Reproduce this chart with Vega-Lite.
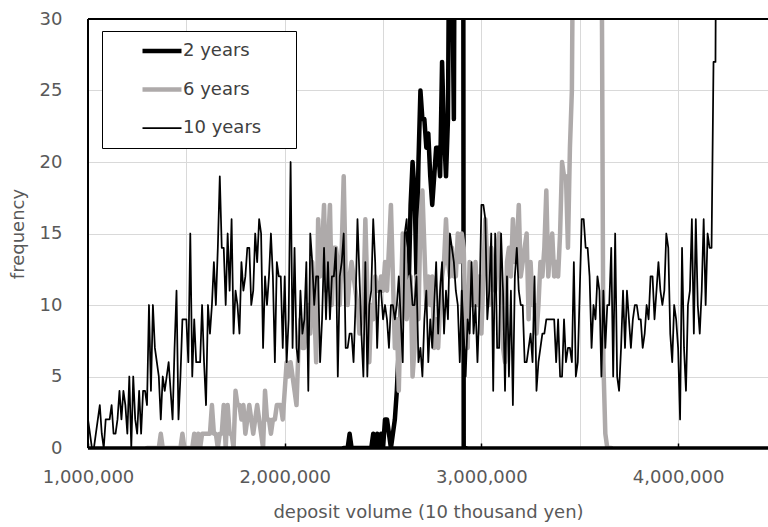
{
"$schema": "https://vega.github.io/schema/vega-lite/v6.json",
"width": 680,
"height": 429,
"autosize": {"type": "none"},
"padding": {"left": 88, "top": 19, "right": 0, "bottom": 79},
"config": {
  "font": "DejaVu Sans",
  "view": {"stroke": null},
  "axis": {"labelFont": "DejaVu Sans", "titleFont": "DejaVu Sans", "labelFontSize": 18, "titleFontSize": 18, "labelColor": "#595959", "titleColor": "#595959", "titleFontWeight": "normal", "gridColor": "#d9d9d9", "gridWidth": 1}
},
"datasets": {
"y2": [
{"x":2300000,"f":0},{"x":2310000,"f":0},{"x":2320000,"f":0},{"x":2330000,"f":1},{"x":2340000,"f":0},{"x":2350000,"f":0},{"x":2360000,"f":0},{"x":2370000,"f":0},{"x":2380000,"f":0},{"x":2390000,"f":0},{"x":2400000,"f":0},{"x":2410000,"f":0},{"x":2420000,"f":0},{"x":2430000,"f":0},{"x":2440000,"f":0},{"x":2450000,"f":1},{"x":2460000,"f":0},{"x":2470000,"f":1},{"x":2480000,"f":0},{"x":2490000,"f":1},{"x":2500000,"f":0},{"x":2510000,"f":2},{"x":2520000,"f":2},{"x":2530000,"f":1},{"x":2540000,"f":0},{"x":2550000,"f":1},{"x":2560000,"f":2},{"x":2570000,"f":4},{"x":2580000,"f":7},{"x":2590000,"f":10},{"x":2600000,"f":11},{"x":2610000,"f":13},{"x":2620000,"f":15},{"x":2630000,"f":11},{"x":2640000,"f":17},{"x":2650000,"f":20},{"x":2660000,"f":18},{"x":2670000,"f":12},{"x":2680000,"f":20},{"x":2690000,"f":25},{"x":2700000,"f":23},{"x":2710000,"f":23},{"x":2720000,"f":21},{"x":2730000,"f":22},{"x":2740000,"f":19},{"x":2750000,"f":17},{"x":2760000,"f":19},{"x":2770000,"f":21},{"x":2780000,"f":21},{"x":2790000,"f":19},{"x":2800000,"f":27},{"x":2810000,"f":22},{"x":2820000,"f":19},{"x":2830000,"f":23},{"x":2840000,"f":45},{"x":2850000,"f":35},{"x":2860000,"f":23},{"x":2870000,"f":60},{"x":2880000,"f":100},{"x":2890000,"f":150},{"x":2900000,"f":170},{"x":2910000,"f":0},{"x":2920000,"f":0}
],
"y6": [
{"x":1300000,"f":0},{"x":1310000,"f":0},{"x":1320000,"f":0},{"x":1330000,"f":0},{"x":1340000,"f":0},{"x":1350000,"f":0},{"x":1360000,"f":0},{"x":1370000,"f":1},{"x":1380000,"f":0},{"x":1390000,"f":0},{"x":1400000,"f":0},{"x":1410000,"f":0},{"x":1420000,"f":0},{"x":1430000,"f":0},{"x":1440000,"f":0},{"x":1450000,"f":0},{"x":1460000,"f":0},{"x":1470000,"f":0},{"x":1480000,"f":1},{"x":1490000,"f":0},{"x":1500000,"f":0},{"x":1510000,"f":0},{"x":1520000,"f":0},{"x":1530000,"f":0},{"x":1540000,"f":1},{"x":1550000,"f":0},{"x":1560000,"f":1},{"x":1570000,"f":0},{"x":1580000,"f":1},{"x":1590000,"f":1},{"x":1600000,"f":1},{"x":1610000,"f":1},{"x":1620000,"f":1},{"x":1630000,"f":3},{"x":1640000,"f":1},{"x":1650000,"f":1},{"x":1660000,"f":0},{"x":1670000,"f":1},{"x":1680000,"f":1},{"x":1690000,"f":3},{"x":1700000,"f":0},{"x":1710000,"f":3},{"x":1720000,"f":1},{"x":1730000,"f":1},{"x":1740000,"f":0},{"x":1750000,"f":4},{"x":1760000,"f":3},{"x":1770000,"f":3},{"x":1780000,"f":2},{"x":1790000,"f":3},{"x":1800000,"f":1},{"x":1810000,"f":2},{"x":1820000,"f":3},{"x":1830000,"f":2},{"x":1840000,"f":1},{"x":1850000,"f":2},{"x":1860000,"f":3},{"x":1870000,"f":2},{"x":1880000,"f":1},{"x":1890000,"f":0},{"x":1900000,"f":4},{"x":1910000,"f":2},{"x":1920000,"f":2},{"x":1930000,"f":1},{"x":1940000,"f":2},{"x":1950000,"f":2},{"x":1960000,"f":3},{"x":1970000,"f":3},{"x":1980000,"f":3},{"x":1990000,"f":2},{"x":2000000,"f":4},{"x":2010000,"f":6},{"x":2020000,"f":5},{"x":2030000,"f":6},{"x":2040000,"f":5},{"x":2050000,"f":4},{"x":2060000,"f":3},{"x":2070000,"f":7},{"x":2080000,"f":9},{"x":2090000,"f":7},{"x":2100000,"f":7},{"x":2110000,"f":9},{"x":2120000,"f":10},{"x":2130000,"f":8},{"x":2140000,"f":13},{"x":2150000,"f":10},{"x":2160000,"f":6},{"x":2170000,"f":16},{"x":2180000,"f":12},{"x":2190000,"f":14},{"x":2200000,"f":17},{"x":2210000,"f":11},{"x":2220000,"f":14},{"x":2230000,"f":17},{"x":2240000,"f":10},{"x":2250000,"f":14},{"x":2260000,"f":14},{"x":2270000,"f":13},{"x":2280000,"f":10},{"x":2290000,"f":14},{"x":2300000,"f":19},{"x":2310000,"f":12},{"x":2320000,"f":10},{"x":2330000,"f":12},{"x":2340000,"f":13},{"x":2350000,"f":12},{"x":2360000,"f":11},{"x":2370000,"f":10},{"x":2380000,"f":8},{"x":2390000,"f":9},{"x":2400000,"f":10},{"x":2410000,"f":16},{"x":2420000,"f":11},{"x":2430000,"f":6},{"x":2440000,"f":10},{"x":2450000,"f":9},{"x":2460000,"f":12},{"x":2470000,"f":11},{"x":2480000,"f":11},{"x":2490000,"f":12},{"x":2500000,"f":11},{"x":2510000,"f":13},{"x":2520000,"f":11},{"x":2530000,"f":14},{"x":2540000,"f":17},{"x":2550000,"f":12},{"x":2560000,"f":7},{"x":2570000,"f":9},{"x":2580000,"f":4},{"x":2590000,"f":10},{"x":2600000,"f":15},{"x":2610000,"f":14},{"x":2620000,"f":9},{"x":2630000,"f":11},{"x":2640000,"f":12},{"x":2650000,"f":5},{"x":2660000,"f":7},{"x":2670000,"f":12},{"x":2680000,"f":9},{"x":2690000,"f":16},{"x":2700000,"f":18},{"x":2710000,"f":14},{"x":2720000,"f":10},{"x":2730000,"f":12},{"x":2740000,"f":10},{"x":2750000,"f":12},{"x":2760000,"f":7},{"x":2770000,"f":9},{"x":2780000,"f":7},{"x":2790000,"f":10},{"x":2800000,"f":12},{"x":2810000,"f":13},{"x":2820000,"f":16},{"x":2830000,"f":13},{"x":2840000,"f":12},{"x":2850000,"f":14},{"x":2860000,"f":12},{"x":2870000,"f":12},{"x":2880000,"f":15},{"x":2890000,"f":13},{"x":2900000,"f":15},{"x":2910000,"f":14},{"x":2920000,"f":8},{"x":2930000,"f":7},{"x":2940000,"f":13},{"x":2950000,"f":10},{"x":2960000,"f":10},{"x":2970000,"f":13},{"x":2980000,"f":10},{"x":2990000,"f":12},{"x":3000000,"f":8},{"x":3010000,"f":12},{"x":3020000,"f":16},{"x":3030000,"f":13},{"x":3040000,"f":10},{"x":3050000,"f":14},{"x":3060000,"f":12},{"x":3070000,"f":11},{"x":3080000,"f":14},{"x":3090000,"f":15},{"x":3100000,"f":10},{"x":3110000,"f":7},{"x":3120000,"f":6},{"x":3130000,"f":13},{"x":3140000,"f":14},{"x":3150000,"f":12},{"x":3160000,"f":16},{"x":3170000,"f":13},{"x":3180000,"f":14},{"x":3190000,"f":17},{"x":3200000,"f":12},{"x":3210000,"f":13},{"x":3220000,"f":14},{"x":3230000,"f":15},{"x":3240000,"f":9},{"x":3250000,"f":13},{"x":3260000,"f":10},{"x":3270000,"f":10},{"x":3280000,"f":8},{"x":3290000,"f":10},{"x":3300000,"f":13},{"x":3310000,"f":12},{"x":3320000,"f":14},{"x":3330000,"f":18},{"x":3340000,"f":12},{"x":3350000,"f":14},{"x":3360000,"f":15},{"x":3370000,"f":12},{"x":3380000,"f":13},{"x":3390000,"f":12},{"x":3400000,"f":15},{"x":3410000,"f":20},{"x":3420000,"f":19},{"x":3430000,"f":19},{"x":3440000,"f":14},{"x":3450000,"f":21},{"x":3460000,"f":25},{"x":3470000,"f":45},{"x":3480000,"f":90},{"x":3490000,"f":140},{"x":3500000,"f":180},{"x":3510000,"f":210},{"x":3520000,"f":230},{"x":3530000,"f":240},{"x":3540000,"f":240},{"x":3550000,"f":230},{"x":3560000,"f":210},{"x":3570000,"f":180},{"x":3580000,"f":140},{"x":3590000,"f":100},{"x":3600000,"f":70},{"x":3610000,"f":40},{"x":3620000,"f":6},{"x":3630000,"f":1},{"x":3640000,"f":0},{"x":3650000,"f":0},{"x":3660000,"f":0}
],
"y10": [
{"x":1000000,"f":2},{"x":1010000,"f":1},{"x":1020000,"f":0},{"x":1030000,"f":0},{"x":1040000,"f":1},{"x":1050000,"f":2},{"x":1060000,"f":3},{"x":1070000,"f":1},{"x":1080000,"f":0},{"x":1090000,"f":2},{"x":1100000,"f":2},{"x":1110000,"f":2},{"x":1120000,"f":3},{"x":1130000,"f":1},{"x":1140000,"f":1},{"x":1150000,"f":2},{"x":1160000,"f":4},{"x":1170000,"f":2},{"x":1180000,"f":4},{"x":1190000,"f":3},{"x":1200000,"f":1},{"x":1210000,"f":5},{"x":1220000,"f":0},{"x":1230000,"f":5},{"x":1240000,"f":2},{"x":1250000,"f":1},{"x":1260000,"f":4},{"x":1270000,"f":1},{"x":1280000,"f":4},{"x":1290000,"f":4},{"x":1300000,"f":3},{"x":1310000,"f":10},{"x":1320000,"f":4},{"x":1330000,"f":10},{"x":1340000,"f":7},{"x":1350000,"f":6},{"x":1360000,"f":5},{"x":1370000,"f":2},{"x":1380000,"f":5},{"x":1390000,"f":4},{"x":1400000,"f":5},{"x":1410000,"f":6},{"x":1420000,"f":4},{"x":1430000,"f":2},{"x":1440000,"f":7},{"x":1450000,"f":11},{"x":1460000,"f":2},{"x":1470000,"f":5},{"x":1480000,"f":9},{"x":1490000,"f":9},{"x":1500000,"f":9},{"x":1510000,"f":6},{"x":1520000,"f":15},{"x":1530000,"f":5},{"x":1540000,"f":9},{"x":1550000,"f":6},{"x":1560000,"f":6},{"x":1570000,"f":6},{"x":1580000,"f":10},{"x":1590000,"f":6},{"x":1600000,"f":3},{"x":1610000,"f":10},{"x":1620000,"f":8},{"x":1630000,"f":10},{"x":1640000,"f":13},{"x":1650000,"f":10},{"x":1660000,"f":14},{"x":1670000,"f":19},{"x":1680000,"f":14},{"x":1690000,"f":14},{"x":1700000,"f":10},{"x":1710000,"f":15},{"x":1720000,"f":11},{"x":1730000,"f":16},{"x":1740000,"f":8},{"x":1750000,"f":11},{"x":1760000,"f":10},{"x":1770000,"f":8},{"x":1780000,"f":13},{"x":1790000,"f":11},{"x":1800000,"f":12},{"x":1810000,"f":14},{"x":1820000,"f":14},{"x":1830000,"f":10},{"x":1840000,"f":11},{"x":1850000,"f":15},{"x":1860000,"f":13},{"x":1870000,"f":16},{"x":1880000,"f":15},{"x":1890000,"f":7},{"x":1900000,"f":12},{"x":1910000,"f":10},{"x":1920000,"f":12},{"x":1930000,"f":15},{"x":1940000,"f":12},{"x":1950000,"f":6},{"x":1960000,"f":13},{"x":1970000,"f":12},{"x":1980000,"f":12},{"x":1990000,"f":7},{"x":2000000,"f":12},{"x":2010000,"f":6},{"x":2020000,"f":9},{"x":2030000,"f":20},{"x":2040000,"f":7},{"x":2050000,"f":14},{"x":2060000,"f":7},{"x":2070000,"f":6},{"x":2080000,"f":11},{"x":2090000,"f":8},{"x":2100000,"f":9},{"x":2110000,"f":13},{"x":2120000,"f":4},{"x":2130000,"f":15},{"x":2140000,"f":13},{"x":2150000,"f":10},{"x":2160000,"f":12},{"x":2170000,"f":12},{"x":2180000,"f":6},{"x":2190000,"f":9},{"x":2200000,"f":14},{"x":2210000,"f":9},{"x":2220000,"f":13},{"x":2230000,"f":9},{"x":2240000,"f":12},{"x":2250000,"f":12},{"x":2260000,"f":14},{"x":2270000,"f":5},{"x":2280000,"f":12},{"x":2290000,"f":13},{"x":2300000,"f":15},{"x":2310000,"f":7},{"x":2320000,"f":7},{"x":2330000,"f":8},{"x":2340000,"f":8},{"x":2350000,"f":6},{"x":2360000,"f":10},{"x":2370000,"f":16},{"x":2380000,"f":12},{"x":2390000,"f":8},{"x":2400000,"f":5},{"x":2410000,"f":13},{"x":2420000,"f":5},{"x":2430000,"f":10},{"x":2440000,"f":11},{"x":2450000,"f":16},{"x":2460000,"f":13},{"x":2470000,"f":7},{"x":2480000,"f":11},{"x":2490000,"f":11},{"x":2500000,"f":9},{"x":2510000,"f":10},{"x":2520000,"f":9},{"x":2530000,"f":7},{"x":2540000,"f":10},{"x":2550000,"f":10},{"x":2560000,"f":9},{"x":2570000,"f":10},{"x":2580000,"f":12},{"x":2590000,"f":9},{"x":2600000,"f":6},{"x":2610000,"f":15},{"x":2620000,"f":16},{"x":2630000,"f":13},{"x":2640000,"f":12},{"x":2650000,"f":10},{"x":2660000,"f":10},{"x":2670000,"f":12},{"x":2680000,"f":6},{"x":2690000,"f":7},{"x":2700000,"f":5},{"x":2710000,"f":9},{"x":2720000,"f":11},{"x":2730000,"f":6},{"x":2740000,"f":9},{"x":2750000,"f":7},{"x":2760000,"f":10},{"x":2770000,"f":13},{"x":2780000,"f":8},{"x":2790000,"f":11},{"x":2800000,"f":13},{"x":2810000,"f":8},{"x":2820000,"f":11},{"x":2830000,"f":9},{"x":2840000,"f":15},{"x":2850000,"f":14},{"x":2860000,"f":13},{"x":2870000,"f":11},{"x":2880000,"f":10},{"x":2890000,"f":6},{"x":2900000,"f":11},{"x":2910000,"f":8},{"x":2920000,"f":5},{"x":2930000,"f":9},{"x":2940000,"f":8},{"x":2950000,"f":13},{"x":2960000,"f":8},{"x":2970000,"f":10},{"x":2980000,"f":6},{"x":2990000,"f":10},{"x":3000000,"f":17},{"x":3010000,"f":17},{"x":3020000,"f":16},{"x":3030000,"f":9},{"x":3040000,"f":11},{"x":3050000,"f":15},{"x":3060000,"f":4},{"x":3070000,"f":15},{"x":3080000,"f":7},{"x":3090000,"f":7},{"x":3100000,"f":15},{"x":3110000,"f":11},{"x":3120000,"f":4},{"x":3130000,"f":12},{"x":3140000,"f":5},{"x":3150000,"f":11},{"x":3160000,"f":3},{"x":3170000,"f":12},{"x":3180000,"f":14},{"x":3190000,"f":11},{"x":3200000,"f":10},{"x":3210000,"f":10},{"x":3220000,"f":6},{"x":3230000,"f":6},{"x":3240000,"f":7},{"x":3250000,"f":8},{"x":3260000,"f":6},{"x":3270000,"f":12},{"x":3280000,"f":4},{"x":3290000,"f":6},{"x":3300000,"f":7},{"x":3310000,"f":8},{"x":3320000,"f":8},{"x":3330000,"f":9},{"x":3340000,"f":9},{"x":3350000,"f":9},{"x":3360000,"f":9},{"x":3370000,"f":9},{"x":3380000,"f":6},{"x":3390000,"f":9},{"x":3400000,"f":5},{"x":3410000,"f":5},{"x":3420000,"f":9},{"x":3430000,"f":6},{"x":3440000,"f":7},{"x":3450000,"f":7},{"x":3460000,"f":6},{"x":3470000,"f":13},{"x":3480000,"f":5},{"x":3490000,"f":6},{"x":3500000,"f":11},{"x":3510000,"f":16},{"x":3520000,"f":16},{"x":3530000,"f":14},{"x":3540000,"f":14},{"x":3550000,"f":12},{"x":3560000,"f":7},{"x":3570000,"f":10},{"x":3580000,"f":9},{"x":3590000,"f":12},{"x":3600000,"f":11},{"x":3610000,"f":5},{"x":3620000,"f":11},{"x":3630000,"f":7},{"x":3640000,"f":10},{"x":3650000,"f":10},{"x":3660000,"f":14},{"x":3670000,"f":5},{"x":3680000,"f":15},{"x":3690000,"f":5},{"x":3700000,"f":4},{"x":3710000,"f":7},{"x":3720000,"f":11},{"x":3730000,"f":7},{"x":3740000,"f":11},{"x":3750000,"f":9},{"x":3760000,"f":7},{"x":3770000,"f":9},{"x":3780000,"f":10},{"x":3790000,"f":10},{"x":3800000,"f":9},{"x":3810000,"f":9},{"x":3820000,"f":7},{"x":3830000,"f":8},{"x":3840000,"f":10},{"x":3850000,"f":9},{"x":3860000,"f":12},{"x":3870000,"f":12},{"x":3880000,"f":9},{"x":3890000,"f":11},{"x":3900000,"f":13},{"x":3910000,"f":11},{"x":3920000,"f":10},{"x":3930000,"f":11},{"x":3940000,"f":15},{"x":3950000,"f":14},{"x":3960000,"f":8},{"x":3970000,"f":6},{"x":3980000,"f":10},{"x":3990000,"f":9},{"x":4000000,"f":7},{"x":4010000,"f":2},{"x":4020000,"f":14},{"x":4030000,"f":7},{"x":4040000,"f":4},{"x":4050000,"f":10},{"x":4060000,"f":11},{"x":4070000,"f":16},{"x":4080000,"f":8},{"x":4090000,"f":16},{"x":4100000,"f":10},{"x":4110000,"f":8},{"x":4120000,"f":11},{"x":4130000,"f":16},{"x":4140000,"f":10},{"x":4150000,"f":15},{"x":4160000,"f":14},{"x":4170000,"f":14},{"x":4180000,"f":27},{"x":4190000,"f":27},{"x":4200000,"f":60}
]
},
"layer": [
{
  "data": {"name": "y2"},
  "mark": {"type": "line", "clip": true, "strokeWidth": 4.5, "strokeJoin": "round", "strokeCap": "round"},
  "encoding": {
    "x": {"field": "x", "type": "quantitative",
      "scale": {"domain": [1000000, 4457000], "nice": false, "zero": false},
      "axis": {"title": "deposit volume (10 thousand yen)", "values": [1000000,1500000,2000000,2500000,3000000,3500000,4000000],
        "labelExpr": "datum.value % 1000000 === 0 ? format(datum.value, ',') : ''",
        "grid": true, "domain": false, "tickSize": -5, "tickColor": "#000000", "tickWidth": 1.5,
        "tickOpacity": {"condition": {"test": "datum.value % 1000000 === 0", "value": 1}, "value": 0},
        "labelPadding": 25, "titlePadding": 17, "labelOverlap": false, "labelFlush": false, "labelBound": false}},
    "y": {"field": "f", "type": "quantitative",
      "scale": {"domain": [0, 30], "nice": false},
      "axis": {"title": "frequency", "values": [0,5,10,15,20,25,30], "grid": true, "domain": false, "ticks": false, "labelPadding": 26, "titlePadding": 12}},
    "color": {"datum": "2 years", "type": "nominal",
      "scale": {"domain": ["2 years", "6 years", "10 years"], "range": ["#000000", "#AEAAAA", "#000000"]},
      "legend": {"title": null, "orient": "none", "legendX": 14, "legendY": 12, "symbolType": "stroke", "symbolSize": 1521,
        "padding": 11, "rowPadding": 20.5, "symbolOffset": 40, "labelOffset": 12, "labelFontSize": 18, "labelFont": "DejaVu Sans",
        "labelColor": "#404040", "fillColor": "#ffffff", "strokeColor": "#000000",
        "labelExpr": "datum.label + '\u00a0\u00a0\u00a0\u00a0\u200b'",
        "encode": {"symbols": {"update": {"strokeWidth": {"signal": "datum.value === '10 years' ? 1.75 : 4.5"}}}}}}
  }
},
{
  "data": {"name": "y6"},
  "mark": {"type": "line", "clip": true, "strokeWidth": 4.5, "strokeJoin": "round", "strokeCap": "round"},
  "encoding": {
    "x": {"field": "x", "type": "quantitative"},
    "y": {"field": "f", "type": "quantitative"},
    "color": {"datum": "6 years", "type": "nominal"}
  }
},
{
  "data": {"name": "y10"},
  "mark": {"type": "line", "clip": true, "strokeWidth": 1.75, "strokeJoin": "round", "strokeCap": "round"},
  "encoding": {
    "x": {"field": "x", "type": "quantitative"},
    "y": {"field": "f", "type": "quantitative"},
    "color": {"datum": "10 years", "type": "nominal"}
  }
},
{
  "data": {"values": [{}]},
  "mark": {"type": "rule", "color": "#000000", "strokeWidth": 3.5},
  "encoding": {"y": {"datum": 0, "type": "quantitative"}}
},
{
  "data": {"values": [{}]},
  "mark": {"type": "rule", "color": "#000000", "strokeWidth": 2},
  "encoding": {"y": {"datum": 30, "type": "quantitative"}}
},
{
  "data": {"values": [{}]},
  "mark": {"type": "rule", "color": "#000000", "strokeWidth": 2},
  "encoding": {"x": {"datum": 1000000, "type": "quantitative"}}
}
]
}
